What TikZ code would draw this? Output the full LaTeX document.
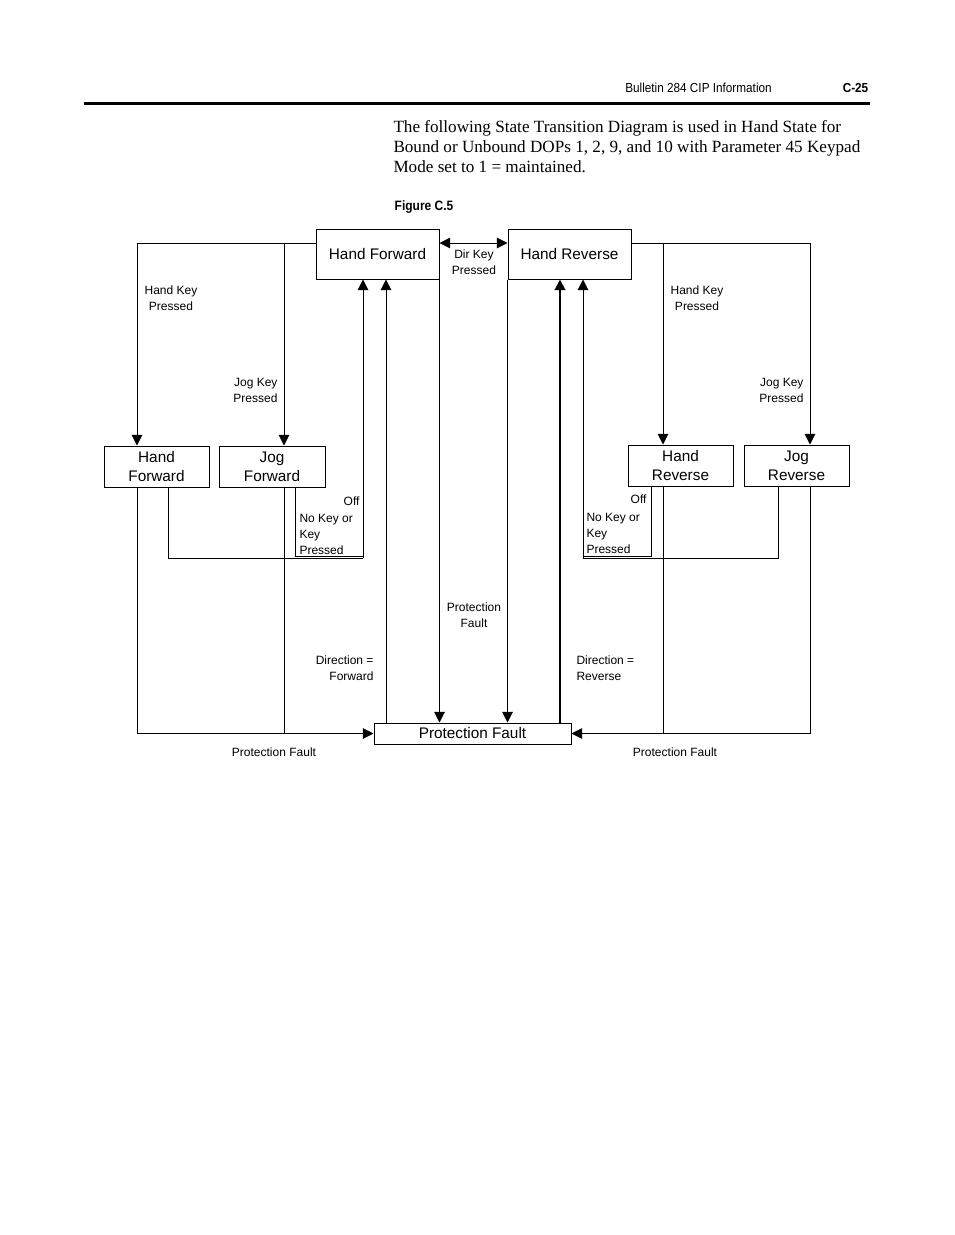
\documentclass[tikz,border=0pt]{standalone}
\usepackage{fontspec}
\setmainfont{Liberation Serif}
\setsansfont{Liberation Sans}
\usetikzlibrary{arrows.meta,positioning,calc}

\begin{document}
\begin{tikzpicture}[x=0.75pt,y=-0.75pt,>={Triangle[length=8pt,width=8pt]},line width=0.75pt,
  state/.style={draw,fill=white,inner sep=0pt,align=center,font=\sffamily\fontsize{11.5}{14.25}\selectfont},
  bigstate/.style={state,minimum width=92.25pt,minimum height=37.5pt},
  substate/.style={state,minimum width=78.75pt,minimum height=30.75pt},
  cond/.style={inner sep=0pt,font=\sffamily\fontsize{9}{12}\selectfont},
  narrow/.style={inner sep=0pt,font=\sffamily\fontsize{9.8}{12}\selectfont}]
\useasboundingbox (0,0) rectangle (954,1235);

% page head
\node[narrow] (head) at (698.5,88) {\scalebox{0.9}[1]{Bulletin 284 CIP Information}};
\node[narrow,font=\sffamily\bfseries\fontsize{9.8}{12}\selectfont] (page) at (855.5,88) {\scalebox{0.9}[1]{C-25}};
\draw[line width=2.25pt] (84,103) -- (870,103);
\node[inner sep=0pt,anchor=north west,align=left,font=\fontsize{12.85}{15}\selectfont] (intro) at (393,119.5)
  {The following State Transition Diagram is used in Hand State for\\
   Bound or Unbound DOPs 1, 2, 9, and 10 with Parameter 45 Keypad\\
   Mode set to 1 = maintained.};
\node[narrow,font=\sffamily\bfseries\fontsize{10.2}{12}\selectfont] (fig) at (424,207) {\scalebox{0.88}[1]{Figure C.5}};

% states
\node[bigstate] (hf) at (377.5,254) {\raisebox{-1pt}{Hand Forward}};
\node[bigstate] (hr) at (569.5,254) {\raisebox{-1pt}{Hand Reverse}};
\node[substate] (hfs) at (156.5,466.5) {Hand\\Forward};
\node[substate,minimum width=79.5pt] (jf) at (272,466.5) {Jog\\Forward};
\node[substate] (hrs) at (680.5,465.5) {Hand\\Reverse};
\node[substate] (jr) at (796.5,465.5) {Jog\\Reverse};
\node[state,minimum width=147.75pt,minimum height=15.75pt] (pf) at (472.5,733.5) {Protection Fault};

% routing points
\coordinate (hfL) at (137,243);
\coordinate (jfL) at (284,243);
\coordinate (hrsL) at (663,243);
\coordinate (jrL) at (810,243);
\coordinate (hfB) at (168,558);
\coordinate (jfB) at (295,556);
\coordinate (offF) at (363,558);
\coordinate (dirF) at (386,558);
\coordinate (dirR) at (560,558);
\coordinate (offR) at (583,558);
\coordinate (hrsB) at (651,556);
\coordinate (jrB) at (778,558);

% key presses
\draw[<->] (hf.east |- hfL) -- (hr.west |- hfL);
\draw (hf.west |- hfL) -- (hfL);
\draw[->] (hfL) -- (hfL |- hfs.north);
\draw[->] (jfL) -- (jfL |- jf.north);
\draw (hr.east |- jrL) -- (jrL);
\draw[->] (jrL) -- (jrL |- jr.north);
\draw[->] (hrsL) -- (hrsL |- hrs.north);

% off / no key
\draw (hfB |- hfs.south) -- (hfB) -- (offF);
\draw (jfB |- jf.south) -- (jfB) -- (jfB -| offF);
\draw[->] (offF) -- (offF |- hf.south);
\draw (jrB |- jr.south) -- (jrB) -- (offR);
\draw (hrsB |- hrs.south) -- (hrsB) -- (hrsB -| offR);
\draw[->] (offR) -- (offR |- hr.south);

% protection fault
\draw[->] (hfL |- hfs.south) |- (pf.west);
\draw (jfL |- jf.south) -- (jfL |- pf.west);
\draw[->] (jrL |- jr.south) |- (pf.east);
\draw (hrsL |- hrs.south) -- (hrsL |- pf.east);
\draw[->] (hf.south east) -- (hf.south east |- pf.north);
\draw[->] (hr.south west) -- (hr.south west |- pf.north);

% direction
\draw[->] (dirF |- pf.north) -- (dirF |- hf.south);
\draw[->,line width=1.5pt] (dirR |- pf.north) -- (dirR |- hr.south);

% conditions
\node[cond,align=center] (dirkey) at (474,262) {Dir Key\\Pressed};
\node[cond,align=center] (hkF) at (171,298) {Hand Key\\Pressed};
\node[cond,align=right,anchor=east] (jkF) at (278,390) {Jog Key\\Pressed};
\node[cond,align=center] (hkR) at (697,298) {Hand Key\\Pressed};
\node[cond,align=right,anchor=east] (jkR) at (804,390) {Jog Key\\Pressed};
\node[cond,anchor=east] (offFt) at (360,501) {Off};
\node[cond,align=left,anchor=west] (nokF) at (299,534) {No Key or\\Key\\Pressed};
\node[cond,anchor=east] (offRt) at (647,499) {Off};
\node[cond,align=left,anchor=west] (nokR) at (586,533) {No Key or\\Key\\Pressed};
\node[cond,align=center] (pfmid) at (474,615) {Protection\\Fault};
\node[cond,align=right,anchor=east] (dirFt) at (374,668) {Direction =\\Forward};
\node[cond,align=left,anchor=west] (dirRt) at (576,668) {Direction =\\Reverse};
\node[cond] (pfL) at (274,752) {Protection Fault};
\node[cond] (pfR) at (675,752) {Protection Fault};
\end{tikzpicture}
\end{document}
